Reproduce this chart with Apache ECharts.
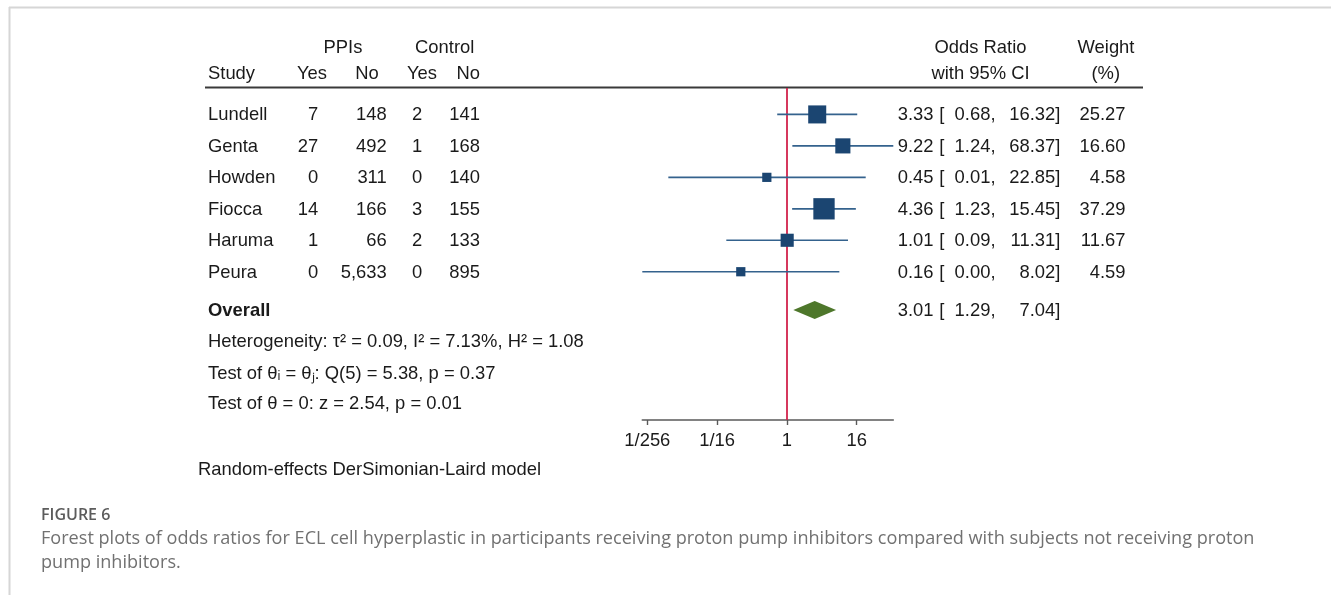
<!DOCTYPE html>
<html>
<head>
<meta charset="utf-8">
<script src="https://cdn.jsdelivr.net/npm/echarts@6/dist/echarts.min.js"></script>
<style>
html,body{margin:0;padding:0;background:#fff;}
#c{width:1331px;height:595px;}
</style>
</head>
<body>
<div id="c"></div>
<script>
// ---- data ----
const studies = ['Lundell', 'Genta', 'Howden', 'Fiocca', 'Haruma', 'Peura'];
const ppiYes = [7, 27, 0, 14, 1, 0];
const ppiNo = [148, 492, 311, 166, 66, 5633];
const ctrlYes = [2, 1, 0, 3, 2, 0];
const ctrlNo = [141, 168, 140, 155, 133, 895];
const orEst = [3.33, 9.22, 0.45, 4.36, 1.01, 0.16];
const ciLow = [0.68, 1.24, 0.009, 1.23, 0.09, 0.0032];
const ciHigh = [16.32, 68.37, 22.85, 15.45, 11.31, 8.02];
const weights = [25.27, 16.60, 4.58, 37.29, 11.67, 4.59];
const overallOR = 3.01;
const overallLow = 1.29;
const overallHigh = 7.04;
const tickValues = [1 / 256, 1 / 16, 1, 16];
const tickLabels = ['1/256', '1/16', '1', '16'];
const statLines = [
  'Heterogeneity: \u03C4\u00B2 = 0.09, I\u00B2 = 7.13%, H\u00B2 = 1.08',
  'Test of \u03B8\u1D62 = \u03B8\u2C7C: Q(5) = 5.38, p = 0.37',
  'Test of \u03B8 = 0: z = 2.54, p = 0.01'
];

// ---- layout / style ----
const FONT = '"Liberation Sans", Arial, sans-serif';
const FS = 18.4;
const TXT = '#1a1a1a';
const OVERALL_ROW = 6.22;
const STAT_ROWS = [7.22, 8.22, 9.2];
const log2 = v => Math.log(v) / Math.LN2;

const chart = echarts.init(document.getElementById('c'), null, { renderer: 'canvas' });

const studyData = studies.map((s, i) => [log2(ciLow[i]), log2(ciHigh[i]), log2(orEst[i]), i, weights[i]]);

chart.setOption({
  animation: false,
  backgroundColor: '#fff',
  grid: { left: 642.3, right: 1331 - 893.3, top: 88, height: 332, containLabel: false },
  xAxis: {
    type: 'value',
    min: 'dataMin',
    max: 'dataMax',
    axisLine: { show: true, onZero: false, lineStyle: { color: '#5a5a5a', width: 1.6 } },
    axisTick: { show: true, length: 5, inside: false, customValues: tickValues.map(log2), lineStyle: { color: '#5a5a5a', width: 1.4 } },
    axisLabel: {
      customValues: tickValues.map(log2),
      formatter: v => { const k = tickValues.findIndex(t => Math.abs(log2(t) - v) < 1e-6); return k >= 0 ? tickLabels[k] : ''; },
      fontFamily: FONT, fontSize: FS, color: TXT, margin: 12
    },
    splitLine: { show: false }
  },
  yAxis: { type: 'value', inverse: true, min: -0.84, max: 9.713, show: false },
  series: [
    {
      type: 'custom',
      name: 'studies',
      data: studyData,
      encode: { x: [0, 1, 2], y: 3 },
      renderItem: (params, api) => {
        const lo = api.coord([api.value(0), api.value(3)]);
        const hi = api.coord([api.value(1), api.value(3)]);
        const est = api.coord([api.value(2), api.value(3)]);
        const side = 3.05 * Math.sqrt(api.value(4)) + 2.7;
        return {
          type: 'group',
          children: [
            { type: 'line', shape: { x1: lo[0], y1: lo[1], x2: hi[0], y2: hi[1] }, style: { stroke: '#34628d', lineWidth: 1.7 } },
            { type: 'rect', shape: { x: est[0] - side / 2, y: est[1] - side / 2, width: side, height: side }, style: { fill: '#1b4571' } }
          ]
        };
      },
      z: 5
    },
    {
      type: 'custom',
      name: 'overall',
      data: [[log2(overallLow), log2(overallHigh), log2(overallOR), OVERALL_ROW]],
      encode: { x: [0, 1, 2], y: 3 },
      renderItem: (params, api) => {
        const lo = api.coord([api.value(0), api.value(3)]);
        const hi = api.coord([api.value(1), api.value(3)]);
        const est = api.coord([api.value(2), api.value(3)]);
        const h = 9;
        return {
          type: 'polygon',
          shape: { points: [[lo[0], lo[1]], [est[0], est[1] - h], [hi[0], hi[1]], [est[0], est[1] + h]] },
          style: { fill: '#4e772b' }
        };
      },
      z: 5
    },
    {
      type: 'line',
      data: [],
      markLine: {
        silent: true,
        symbol: ['none', 'none'],
        label: { show: false },
        lineStyle: { color: '#d2234c', width: 1.8, type: 'solid' },
        data: [{ xAxis: 0 }]
      },
      z: 3
    }
  ]
});

// ---- table text ----
const rowY = r => chart.convertToPixel({ yAxisIndex: 0 }, r);
const els = [];
function txt(s, x, y, align, opts) {
  opts = opts || {};
  els.push({
    type: 'text', silent: true, z: 10,
    style: {
      text: s, x: x, y: y,
      textAlign: align, align: align, textVerticalAlign: 'middle', verticalAlign: 'middle',
      fontFamily: opts.family || FONT, fontSize: opts.size || FS, fontWeight: opts.weight || 'normal',
      fill: opts.color || TXT
    }
  });
}
// headers
txt('PPIs', 343, 48.3, 'center');
txt('Control', 444.7, 48.3, 'center');
txt('Study', 208, 74.3, 'left');
txt('Yes', 312, 74.3, 'center');
txt('No', 367, 74.3, 'center');
txt('Yes', 422, 74.3, 'center');
txt('No', 468.3, 74.3, 'center');
txt('Odds Ratio', 980.5, 48.3, 'center');
txt('with 95% CI', 980.5, 74.3, 'center');
txt('Weight', 1106, 48.3, 'center');
txt('(%)', 1105.8, 74.3, 'center');

const fmt = v => v.toLocaleString('en-US', { minimumFractionDigits: 2, maximumFractionDigits: 2 });
studies.forEach((s, i) => {
  const y = rowY(i) + 0.8;
  txt(s, 208, y, 'left');
  txt(ppiYes[i].toLocaleString('en-US'), 318.3, y, 'right');
  txt(ppiNo[i].toLocaleString('en-US'), 386.7, y, 'right');
  txt(ctrlYes[i].toLocaleString('en-US'), 422.3, y, 'right');
  txt(ctrlNo[i].toLocaleString('en-US'), 480, y, 'right');
  txt(fmt(orEst[i]), 933.5, y, 'right');
  txt('[', 939.3, y, 'left');
  txt(fmt(ciLow[i]) + ',', 995.5, y, 'right');
  txt(fmt(ciHigh[i]) + ']', 1060.3, y, 'right');
  txt(fmt(weights[i]), 1125.5, y, 'right');
});
const oy = rowY(OVERALL_ROW) + 0.8;
txt('Overall', 208, oy, 'left', { weight: 'bold' });
txt(fmt(overallOR), 933.5, oy, 'right');
txt('[', 939.3, oy, 'left');
txt(fmt(overallLow) + ',', 995.5, oy, 'right');
txt(fmt(overallHigh) + ']', 1060.3, oy, 'right');
statLines.forEach((s, k) => txt(s, 208, rowY(STAT_ROWS[k]) + 0.5, 'left'));

txt('Random-effects DerSimonian-Laird model', 198, 470, 'left');

// caption
const CAP = '"Open Sans", "Noto Sans", sans-serif';
txt('FIGURE 6', 41, 515, 'left', { family: CAP, size: 16, weight: 600, color: '#5c5c5c' });
txt('Forest plots of odds ratios for ECL cell hyperplastic in participants receiving proton pump inhibitors compared with subjects not receiving proton', 41, 539, 'left', { family: CAP, size: 18.1, color: '#717171' });
txt('pump inhibitors.', 41, 563, 'left', { family: CAP, size: 18.1, color: '#717171' });

// header rule & frame
els.push({ type: 'line', silent: true, shape: { x1: 205, y1: 87.5, x2: 1143, y2: 87.5 }, style: { stroke: '#3a3a3a', lineWidth: 2 } });
els.push({ type: 'line', silent: true, shape: { x1: 9, y1: 7.5, x2: 1331, y2: 7.5 }, style: { stroke: '#d6d6d6', lineWidth: 2 } });
els.push({ type: 'line', silent: true, shape: { x1: 9.5, y1: 7, x2: 9.5, y2: 595 }, style: { stroke: '#d6d6d6', lineWidth: 2 } });

chart.setOption({ graphic: { elements: els } });
</script>
</body>
</html>
